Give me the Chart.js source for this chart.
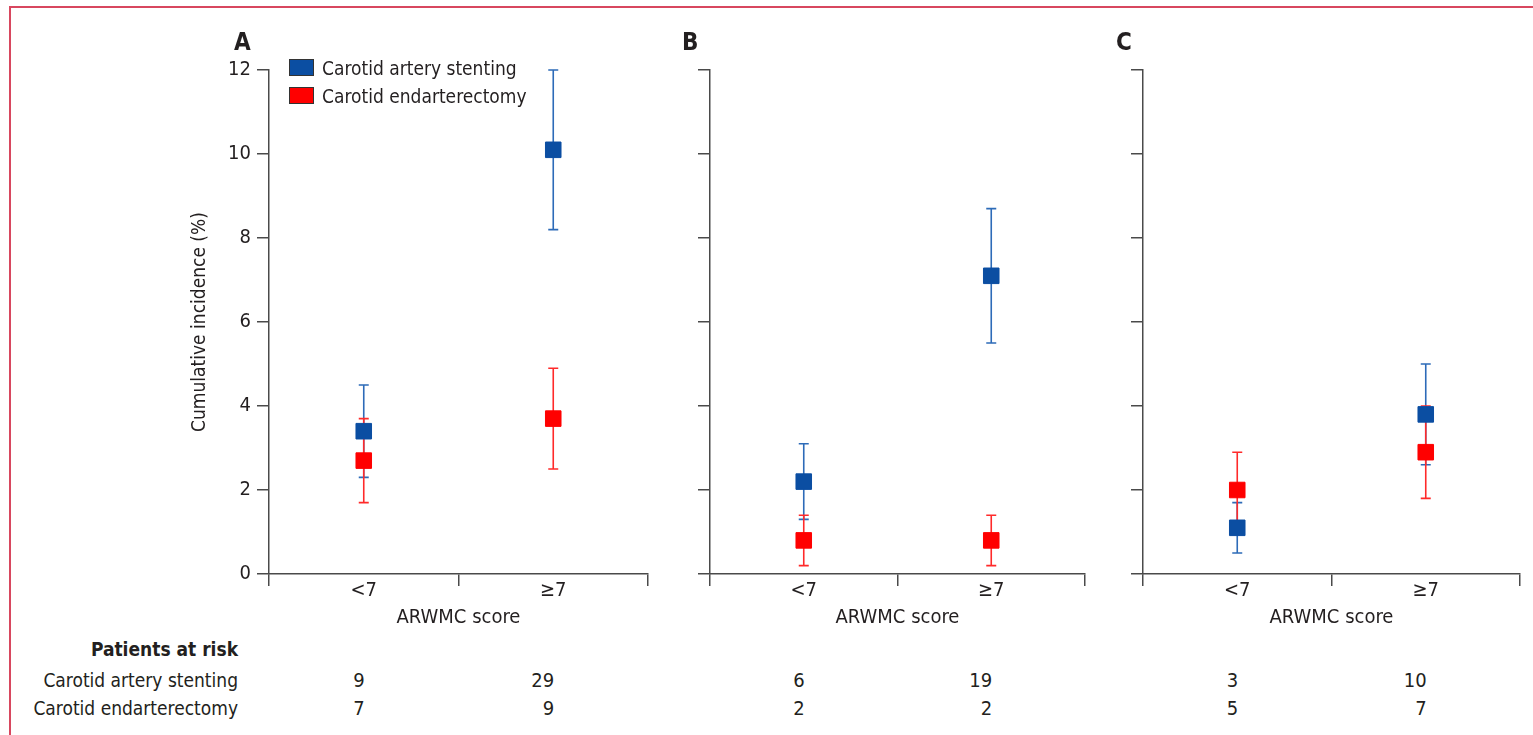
<!DOCTYPE html>
<html>
<head>
<meta charset="utf-8">
<script src="https://cdn.jsdelivr.net/npm/chart.js@4.4.1/dist/chart.umd.min.js"></script>
<style>
  body { margin: 0; background: #fff; width: 1533px; height: 735px; overflow: hidden; position: relative;
         font-family: "Liberation Sans Narrow", "DejaVu Sans Condensed", sans-serif; color: #231f20; }
  canvas { position: absolute; top: 0; }
  .frame { position: absolute; left: 9px; top: 6px; width: 1600px; height: 800px;
           border-top: 2px solid #d8475f; border-left: 2px solid #d8475f; }
  .panel { position: absolute; top: 28px; font-size: 24px; font-weight: bold; }
  .leg { position: absolute; left: 289px; font-size: 19px; line-height: 20px; }
  .leg i { position: absolute; left: 0; top: 1px; width: 23px; height: 15px; border: 1px solid #333; }
  .leg span { position: absolute; left: 33px; white-space: nowrap; }
  .row { position: absolute; left: 0; width: 238px; text-align: right; font-size: 19px; line-height: 24px; white-space: nowrap; }
  .num { position: absolute; width: 60px; text-align: right; font-size: 20px; line-height: 24px; }
</style>
</head>
<body>
<div class="frame"></div>
<canvas id="chartA" width="660" height="634" style="left:0"></canvas>
<canvas id="chartB" width="437" height="634" style="left:660px"></canvas>
<canvas id="chartC" width="436" height="634" style="left:1097px"></canvas>

<div class="panel" style="left:234px">A</div>
<div class="panel" style="left:682px">B</div>
<div class="panel" style="left:1116px">C</div>

<div class="leg" style="top:58px"><i style="background:#0b4ea2"></i><span>Carotid artery stenting</span></div>
<div class="leg" style="top:86px"><i style="background:#ff0000"></i><span>Carotid endarterectomy</span></div>

<div class="row" style="top:637px;font-weight:bold">Patients at risk</div>
<div class="row" style="top:668px">Carotid artery stenting</div>
<div class="row" style="top:696px">Carotid endarterectomy</div>
<div id="nums"></div>

<script>
// categories
const categories = ["<7", "≥7"];

// A: cumulative incidence (%) with 95% CI
const casA = [3.4, 10.1], casLoA = [2.3, 8.2], casHiA = [4.5, 12.0];
const ceaA = [2.7, 3.7], ceaLoA = [1.7, 2.5], ceaHiA = [3.7, 4.9];
// B
const casB = [2.2, 7.1], casLoB = [1.3, 5.5], casHiB = [3.1, 8.7];
const ceaB = [0.8, 0.8], ceaLoB = [0.2, 0.2], ceaHiB = [1.4, 1.4];
// C
const casC = [1.1, 3.8], casLoC = [0.5, 2.6], casHiC = [1.7, 5.0];
const ceaC = [2.0, 2.9], ceaLoC = [1.1, 1.8], ceaHiC = [2.9, 4.0];

// patients at risk
const casRiskA = [9, 29], ceaRiskA = [7, 9];
const casRiskB = [6, 19], ceaRiskB = [2, 2];
const casRiskC = [3, 10], ceaRiskC = [5, 7];

const yTicks = [0, 2, 4, 6, 8, 10, 12];

const FONT = '"Liberation Sans Narrow", "DejaVu Sans Condensed", sans-serif';
const INK = "#231f20";
const AXIS = "#4a4a4a";
const BLUE = "#0b4ea2", BLUE_BAR = "#2d6bb8";
const RED = "#ff0000", RED_BAR = "#ff2a2a";

// error bars drawn under the markers
const errorBars = {
    id: "errorBars",
    beforeDatasetsDraw(chart) {
        const ctx = chart.ctx;
        const x = chart.scales.x, y = chart.scales.y;
        chart.data.datasets.forEach(ds => {
            ctx.save();
            ctx.strokeStyle = ds.barColor;
            ctx.lineWidth = 1.6;
            ds.data.forEach((v, i) => {
                const px = x.getPixelForValue(i);
                const top = y.getPixelForValue(ds.hi[i]);
                const bot = y.getPixelForValue(ds.lo[i]);
                ctx.beginPath();
                ctx.moveTo(px, top); ctx.lineTo(px, bot);
                ctx.moveTo(px - 5, top); ctx.lineTo(px + 5, top);
                ctx.moveTo(px - 5, bot); ctx.lineTo(px + 5, bot);
                ctx.stroke();
            });
            ctx.restore();
        });
    }
};

function makeChart(id, cas, casLo, casHi, cea, ceaLo, ceaHi, opt) {
    return new Chart(document.getElementById(id), {
        type: "line",
        data: {
            labels: categories,
            datasets: [
                { label: "Carotid artery stenting", data: cas, lo: casLo, hi: casHi, barColor: BLUE_BAR,
                  showLine: false, pointStyle: "rect", pointRadius: 11, pointHoverRadius: 11,
                  backgroundColor: BLUE, borderColor: BLUE, pointBorderWidth: 1, clip: false },
                { label: "Carotid endarterectomy", data: cea, lo: ceaLo, hi: ceaHi, barColor: RED_BAR,
                  showLine: false, pointStyle: "rect", pointRadius: 11, pointHoverRadius: 11,
                  backgroundColor: RED, borderColor: RED, pointBorderWidth: 1, clip: false }
            ]
        },
        options: {
            responsive: false,
            animation: false,
            layout: { padding: { left: opt.padLeft, right: opt.padRight, top: 70, bottom: 0 } },
            plugins: { legend: { display: false }, tooltip: { enabled: false } },
            scales: {
                x: {
                    type: "category",
                    offset: true,
                    grid: { offset: true, drawOnChartArea: false, drawTicks: true, tickLength: 12, color: AXIS, lineWidth: 1.5 },
                    border: { display: true, color: AXIS, width: 1.5 },
                    ticks: { color: INK, font: { family: FONT, size: 20 }, padding: -7, maxRotation: 0, minRotation: 0 },
                    title: { display: true, text: "ARWMC score", color: INK, font: { family: FONT, size: 20 } },
                    afterFit: s => { s.height = 60; }
                },
                y: {
                    min: 0, max: 12,
                    afterBuildTicks: s => { s.ticks = yTicks.map(v => ({ value: v })); },
                    grid: { drawOnChartArea: false, drawTicks: true, tickLength: 12, color: AXIS, lineWidth: 1.5 },
                    border: { display: true, color: AXIS, width: 1.5 },
                    ticks: { color: INK, font: { family: FONT, size: 20 }, padding: 6,
                             callback: v => opt.showLabels ? String(v) : "" },
                    title: { display: opt.showLabels, text: "Cumulative incidence (%)", color: INK, font: { family: FONT, size: 19 } },
                    afterFit: s => { s.width = opt.yWidth; }
                }
            }
        },
        plugins: [errorBars]
    });
}

const chartA = makeChart("chartA", casA, casLoA, casHiA, ceaA, ceaLoA, ceaHiA,
    { padLeft: 185, padRight: 10, yWidth: 84, showLabels: true });
const chartB = makeChart("chartB", casB, casLoB, casHiB, ceaB, ceaLoB, ceaHiB,
    { padLeft: 0, padRight: 10, yWidth: 50, showLabels: false });
const chartC = makeChart("chartC", casC, casLoC, casHiC, ceaC, ceaLoC, ceaHiC,
    { padLeft: 0, padRight: 13, yWidth: 46, showLabels: false });

// patients at risk numbers, aligned to each category position
const nums = document.getElementById("nums");
[[chartA, 0, casRiskA, ceaRiskA], [chartB, 660, casRiskB, ceaRiskB], [chartC, 1097, casRiskC, ceaRiskC]]
    .forEach(([ch, off, casR, ceaR]) => {
        categories.forEach((c, i) => {
            const px = off + ch.scales.x.getPixelForValue(i) - 4;
            [[casR[i], 668], [ceaR[i], 696]].forEach(([v, top]) => {
                const d = document.createElement("div");
                d.className = "num";
                d.style.left = (px + 5 - 60) + "px";
                d.style.top = top + "px";
                d.textContent = v;
                nums.appendChild(d);
            });
        });
    });
</script>
</body>
</html>
